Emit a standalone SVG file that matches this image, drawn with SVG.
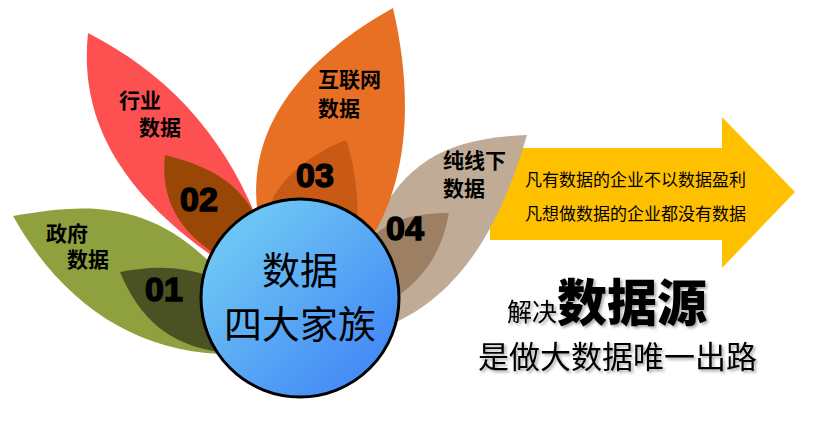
<svg xmlns="http://www.w3.org/2000/svg" width="826" height="427" viewBox="0 0 826 427">
<defs>
<linearGradient id="cg" x1="0" y1="0" x2="1" y2="1"><stop offset="0.2" stop-color="#6cc3f4"/><stop offset="1" stop-color="#3b7ef6"/></linearGradient>
<filter id="sh" x="-10%" y="-10%" width="130%" height="140%"><feDropShadow dx="2" dy="2" stdDeviation="1.5" flood-color="#000" flood-opacity="0.35"/></filter>
<style>
.lb{font-family:"Noto Sans CJK SC","Liberation Sans",sans-serif;font-weight:bold;font-size:21px;fill:#000}
.num{font-family:"Liberation Sans",Arial,sans-serif;font-weight:bold;font-size:34px;fill:#000;stroke:#000;stroke-width:1.5}
.ar{font-family:"Noto Sans CJK SC",sans-serif;font-size:17px;fill:#000}
.bt{font-family:"Noto Sans CJK SC",sans-serif;fill:#000}
</style>
</defs>
<rect width="826" height="427" fill="#fff"/>
<g id="arrow"><polygon points="490,148 722,148 722,117 795,192 722,268 722,240 490,240" fill="#ffc000"/>
<text class="ar" x="525" y="186">凡有数据的企业不以数据盈利</text>
<text class="ar" x="525" y="220">凡想做数据的企业都没有数据</text></g>
<g id="leaf4"><path d="M527,135 C450,138 405,160 375,225 L390,325 C470,290 505,210 527,135Z" fill="#bfab96"/>
<path d="M449,213 C410,213 385,222 370,240 L392,300 C430,275 443,245 449,213Z" fill="#9d7f63"/>
<text class="lb" x="443" y="168">纯线下</text><text class="lb" x="443" y="196">数据</text>
<text class="num" x="386" y="240">04</text></g>
<g id="leaf3"><path d="M393,8 C300,60 245,130 258,215 L375,232 C410,170 412,90 393,8Z" fill="#e87025"/>
<path d="M346,140 C300,158 270,190 268,215 L358,228 C358,195 355,165 346,140Z" fill="#c85a16"/>
<text class="lb" x="318" y="87">互联网</text><text class="lb" x="318" y="116">数据</text>
<text class="num" x="296" y="187">03</text></g>
<g id="leaf2"><path d="M88,33 C80,110 110,185 215,258 L265,240 C230,140 170,75 88,33Z" fill="#fd5151"/>
<path d="M165,155 C160,200 180,230 212,252 L252,210 C235,180 205,165 165,155Z" fill="#994707"/>
<text class="lb" x="119" y="108">行业</text><text class="lb" x="139" y="135">数据</text>
<text class="num" x="180" y="211">02</text></g>
<g id="leaf1"><path d="M13,216 C60,300 130,350 220,354 L222,275 C150,195 80,205 13,216Z" fill="#8fa03f"/>
<path d="M120,272 C140,320 170,345 220,352 L212,277 C180,265 150,266 120,272Z" fill="#4a5223"/>
<text class="lb" x="46" y="241">政府</text><text class="lb" x="67" y="267">数据</text>
<text class="num" x="145" y="301">01</text></g>
<g id="center"><circle cx="300" cy="298" r="99" fill="url(#cg)" stroke="#000" stroke-width="3"/>
<text class="bt" x="300" y="284" font-size="38" text-anchor="middle">数据</text>
<text class="bt" x="300" y="338" font-size="38" text-anchor="middle">四大家族</text></g>
<g id="bottom" filter="url(#sh)">
<text class="bt" x="507" y="321" font-size="25">解决<tspan font-size="50" font-weight="900">数据源</tspan></text>
<text class="bt" x="478" y="368" font-size="31">是做大数据唯一出路</text></g>
</svg>
